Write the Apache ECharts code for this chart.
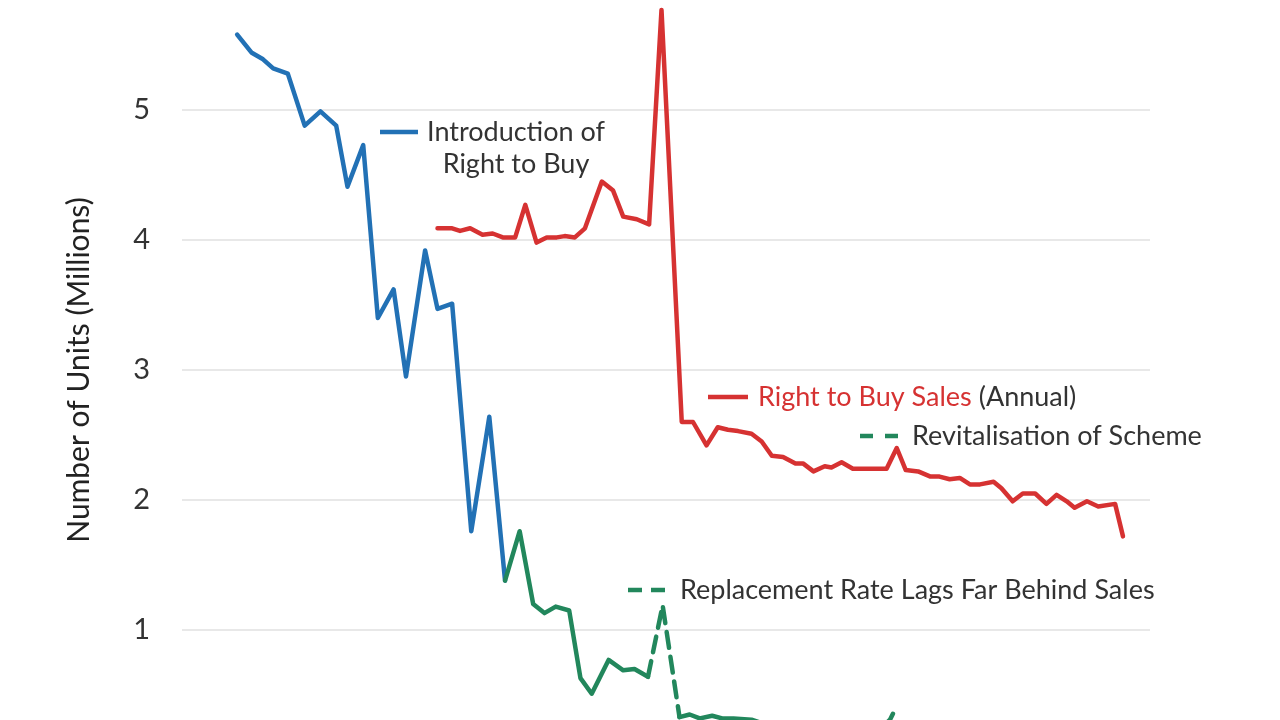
<!DOCTYPE html>
<html>
<head>
<meta charset="utf-8">
<script src="https://cdn.jsdelivr.net/npm/echarts@6/dist/echarts.min.js"></script>
<style>
  html, body { margin: 0; padding: 0; background: #fff; }
  #chart { width: 1280px; height: 720px; }
</style>
</head>
<body>
<div id="chart"></div>
<script>
// council stock (blue)
var stockYears = [1960.9, 1962.2, 1963.2, 1964.1, 1965.4, 1966.9, 1968.3, 1969.7, 1970.7, 1972.1,
    1973.4, 1974.8, 1975.9, 1977.6, 1978.7, 1980.0, 1981.7, 1983.3, 1984.7];
var stockUnits = [5.58, 5.44, 5.39, 5.32, 5.28, 4.88, 4.99, 4.88, 4.41, 4.73,
    3.40, 3.62, 2.95, 3.92, 3.47, 3.51, 1.76, 2.64, 1.38];

// right to buy sales (red)
var salesYears = [1978.7, 1980.0, 1980.7, 1981.6, 1982.7, 1983.6, 1984.5, 1985.6, 1986.5, 1987.5,
    1988.4, 1989.3, 1990.0, 1990.9, 1991.8, 1993.3, 1994.3, 1995.2, 1996.4, 1997.5,
    1998.6, 2000.4, 2001.4, 2002.6, 2003.6, 2004.5, 2005.4, 2006.6, 2007.5, 2008.4,
    2009.4, 2010.5, 2011.2, 2012.1, 2013.1, 2013.7, 2014.6, 2015.6, 2016.8, 2017.7,
    2018.6, 2019.5, 2020.3, 2021.4, 2022.5, 2023.3, 2024.2, 2025.1, 2026.0, 2026.9,
    2028.1, 2028.8, 2029.8, 2030.7, 2031.8, 2032.8, 2033.7, 2034.6, 2035.3, 2036.4,
    2037.4, 2038.9, 2039.6];
var salesUnits = [4.09, 4.09, 4.07, 4.09, 4.04, 4.05, 4.02, 4.02, 4.27, 3.98,
    4.02, 4.02, 4.03, 4.02, 4.09, 4.45, 4.38, 4.18, 4.16, 4.12,
    5.77, 2.60, 2.60, 2.42, 2.56, 2.54, 2.53, 2.51, 2.45, 2.34,
    2.33, 2.28, 2.28, 2.22, 2.26, 2.25, 2.29, 2.24, 2.24, 2.24,
    2.24, 2.40, 2.23, 2.22, 2.18, 2.18, 2.16, 2.17, 2.12, 2.12,
    2.14, 2.09, 1.99, 2.05, 2.05, 1.97, 2.04, 1.99, 1.94, 1.99,
    1.95, 1.97, 1.72];

// replacement builds (green)
var buildYears = [1984.7, 1986.0, 1987.2, 1988.2, 1989.2, 1990.4, 1991.4, 1992.4, 1993.9, 1995.2, 1996.2, 1997.4];
var buildUnits = [1.38, 1.76, 1.20, 1.13, 1.18, 1.15, 0.63, 0.51, 0.77, 0.69, 0.70, 0.64];
var lagYears = [1997.4, 1998.7, 2000.2];
var lagUnits = [0.64, 1.19, 0.33];
var lowYears = [2000.2, 2001.1, 2002.0, 2003.1, 2004.0, 2005.0, 2006.6, 2008.0, 2010.0, 2012.0, 2014.0, 2016.0, 2018.3];
var lowUnits = [0.33, 0.35, 0.32, 0.34, 0.32, 0.32, 0.31, 0.27, 0.25, 0.26, 0.24, 0.25, 0.26];
var revivalYears = [2018.3, 2018.9, 2019.3];
var revivalUnits = [0.26, 0.31, 0.38];

var yTicks = [0, 1, 2, 3, 4, 5, 6];

var BLUE = '#2271b5';
var RED = '#d63232';
var GREEN = '#22875c';
var TEXT = '#333333';
var FONT = '27px Lato';

function pairs(xs, ys) {
    return xs.map(function (x, i) { return [x, ys[i]]; });
}

function lineSeries(name, xs, ys, color, dashed) {
    return {
        name: name,
        type: 'line',
        data: pairs(xs, ys),
        symbol: 'none',
        silent: true,
        lineStyle: {
            color: color,
            width: 4.5,
            type: dashed ? [16, 9] : 'solid',
            cap: 'round',
            join: 'round'
        },
        z: 3
    };
}

var chart = echarts.init(document.getElementById('chart'));

chart.setOption({
    backgroundColor: '#ffffff',
    animation: false,
    textStyle: { fontFamily: 'Lato' },
    // the plot runs past the top and bottom of the frame
    grid: { left: 182, right: 130, top: -20, bottom: -40, outerBoundsMode: 'none', containLabel: false },
    xAxis: {
        type: 'value',
        min: 1956,
        max: 2042,
        show: false
    },
    yAxis: {
        type: 'value',
        min: yTicks[0],
        max: yTicks[yTicks.length - 1],
        interval: 1,
        name: 'Number of Units (Millions)',
        nameLocation: 'middle',
        nameGap: 88,
        nameTextStyle: { fontSize: 30, color: '#222', fontFamily: 'Lato' },
        axisLine: { show: false },
        axisTick: { show: false },
        axisLabel: { fontSize: 29, color: TEXT, margin: 32, fontFamily: 'Lato' },
        splitLine: { lineStyle: { color: '#e8e8e8', width: 2 } }
    },
    series: [
        lineSeries('Council Stock', stockYears, stockUnits, BLUE, false),
        lineSeries('Right to Buy Sales', salesYears, salesUnits, RED, false),
        lineSeries('Replacement Builds', buildYears, buildUnits, GREEN, false),
        lineSeries('Replacement Rate Lags Far Behind Sales', lagYears, lagUnits, GREEN, true),
        lineSeries('Replacement Builds Low', lowYears, lowUnits, GREEN, false),
        lineSeries('Revitalisation of Scheme', revivalYears, revivalUnits, GREEN, true)
    ],
    graphic: [
        // annotation keys
        { type: 'line', z: 100, shape: { x1: 380, y1: 132, x2: 418, y2: 132 },
          style: { stroke: BLUE, lineWidth: 4.5 } },
        { type: 'text', z: 100, x: 516, y: 116,
          style: { text: 'Introduction of\nRight to Buy', font: FONT, fill: TEXT,
                   align: 'center', verticalAlign: 'top', lineHeight: 32 } },
        { type: 'line', z: 100, shape: { x1: 708, y1: 397, x2: 748, y2: 397 },
          style: { stroke: RED, lineWidth: 4.5 } },
        { type: 'text', z: 100, x: 758, y: 397,
          style: { text: '{r|Right to Buy Sales }{d|(Annual)}', verticalAlign: 'middle',
                   rich: { r: { font: FONT, fill: RED }, d: { font: FONT, fill: TEXT } } } },
        { type: 'line', z: 100, shape: { x1: 860, y1: 436, x2: 898, y2: 436 },
          style: { stroke: GREEN, lineWidth: 4.5, lineDash: [13, 12] } },
        { type: 'text', z: 100, x: 912, y: 436,
          style: { text: 'Revitalisation of Scheme', font: FONT, fill: TEXT, verticalAlign: 'middle' } },
        { type: 'line', z: 100, shape: { x1: 628, y1: 590, x2: 665, y2: 590 },
          style: { stroke: GREEN, lineWidth: 4.5, lineDash: [14, 9] } },
        { type: 'text', z: 100, x: 680, y: 590,
          style: { text: 'Replacement Rate Lags Far Behind Sales', font: FONT, fill: TEXT, verticalAlign: 'middle' } }
    ]
});
</script>
</body>
</html>
